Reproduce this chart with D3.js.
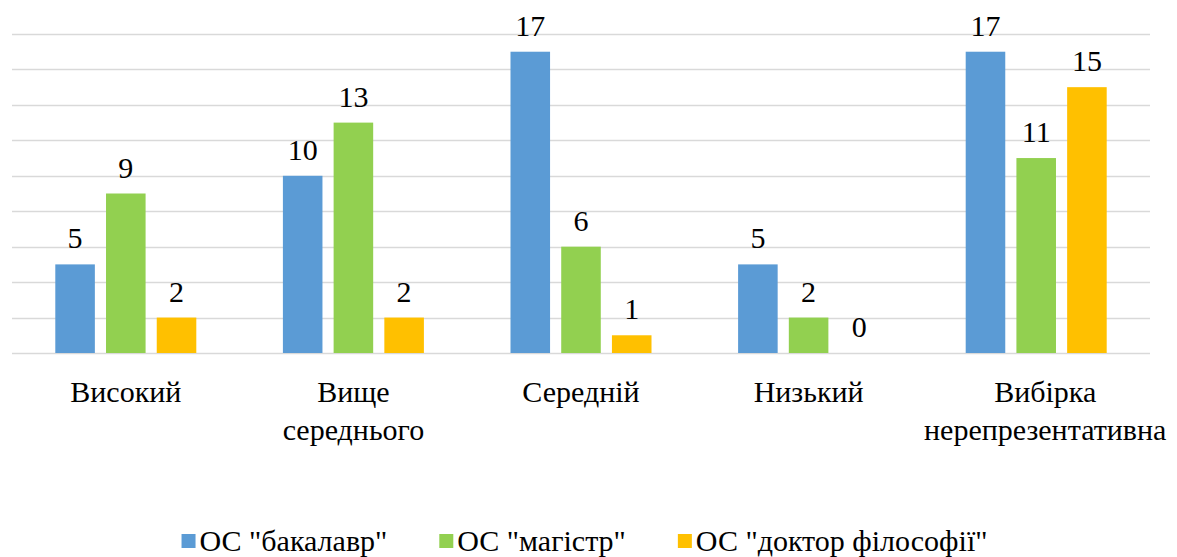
<!DOCTYPE html>
<html>
<head>
<meta charset="utf-8">
<script src="https://cdn.jsdelivr.net/npm/d3@7"></script>
</head>
<body style="margin:0">
<script>
const categories = [["Високий"], ["Вище", "середнього"], ["Середній"], ["Низький"], ["Вибірка", "нерепрезентативна"]];
const seriesNames = ['ОС "бакалавр"', 'ОС "магістр"', 'ОС "доктор філософії"'];
const bachelor = [5, 10, 17, 5, 17];
const master = [9, 13, 6, 2, 11];
const doctor = [2, 2, 1, 0, 15];
const yTicks = [0, 2, 4, 6, 8, 10, 12, 14, 16, 18];
const colors = ["#5b9bd5", "#92d050", "#ffc000"];

const FONT = "Liberation Serif";
const W = 1177, H = 557;
const plot = { left: 12, right: 1150, top: 34, bottom: 353 };

const svg = d3.select("body").append("svg")
    .attr("width", W)
    .attr("height", H);

const x0 = d3.scaleBand()
    .domain(d3.range(categories.length))
    .range([plot.left, plot.right]);

const y = d3.scaleLinear()
    .domain([0, 18])
    .range([plot.bottom, plot.top]);

const groupW = 141;
const x1 = d3.scaleBand()
    .domain(d3.range(seriesNames.length))
    .range([0, groupW])
    .paddingInner(0.22);

const barX = d => x0(d.cat) + x0.bandwidth() / 2 - groupW / 2 + x1(d.s);

// gridlines
yTicks.forEach(t => {
    svg.append("line")
        .attr("x1", plot.left)
        .attr("x2", plot.right)
        .attr("y1", Math.round(y(t)) + 0.5)
        .attr("y2", Math.round(y(t)) + 0.5)
        .attr("stroke", "#d9d9d9")
        .attr("stroke-width", 1.5);
});

const series = [bachelor, master, doctor];
const cells = [];
categories.forEach((c, i) => series.forEach((s, j) => cells.push({ cat: i, s: j, v: s[i] })));

svg.selectAll("rect.bar")
    .data(cells)
    .enter().append("rect")
    .attr("class", "bar")
    .attr("x", barX)
    .attr("width", x1.bandwidth())
    .attr("y", d => y(d.v))
    .attr("height", d => y(0) - y(d.v))
    .attr("fill", d => colors[d.s]);

// value labels, straight under the svg
cells.forEach(d => {
    svg.append("text")
        .attr("x", barX(d) + x1.bandwidth() / 2)
        .attr("y", y(d.v) - 16)
        .attr("text-anchor", "middle")
        .attr("font-family", FONT)
        .attr("font-size", 30)
        .text(d.v);
});

// category labels, one text per line
categories.forEach((lines, i) => {
    lines.forEach((ln, k) => {
        svg.append("text")
            .attr("x", x0(i) + x0.bandwidth() / 2 + (i === 4 ? 9 : 0))
            .attr("y", 402 + k * 38)
            .attr("text-anchor", "middle")
            .attr("font-family", FONT)
            .attr("font-size", 30)
            .text(ln);
    });
});

// legend
const legendTexts = seriesNames.map(name => svg.append("text")
    .attr("y", 551)
    .attr("font-family", FONT)
    .attr("font-size", 30)
    .text(name));
const widths = legendTexts.map(t => t.node().getComputedTextLength() + 18);
const gap = 52;
const total = d3.sum(widths) + gap * (widths.length - 1);
let cx = (W - total) / 2 - 4;
legendTexts.forEach((t, i) => {
    svg.append("rect")
        .attr("x", cx)
        .attr("y", 534)
        .attr("width", 14)
        .attr("height", 14)
        .attr("fill", colors[i]);
    t.attr("x", cx + 18);
    cx += widths[i] + gap;
});
</script>
</body>
</html>
